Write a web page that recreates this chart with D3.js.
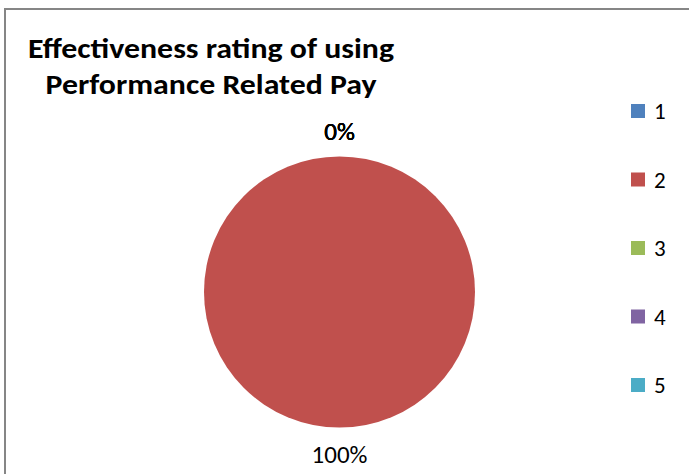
<!DOCTYPE html>
<html>
<head>
<meta charset="utf-8">
<script src="https://cdn.jsdelivr.net/npm/d3@7"></script>
<style>
  html, body { margin: 0; padding: 0; background: #fff; overflow: hidden; }
  svg { display: block; }
</style>
</head>
<body>
<svg id="chart" width="689" height="474"></svg>
<script>
// Effectiveness rating of using Performance Related Pay (share of responses per rating)
const ratings = ["1", "2", "3", "4", "5"];
const shares = [0, 100, 0, 0, 0];
const colors = ["#4F81BD", "#C0504D", "#9BBB59", "#8064A2", "#4BACC6"];
const titleLines = ["Effectiveness rating of using", "Performance Related Pay"];

const W = 689, H = 474;
const svg = d3.select("#chart");
const font = "Carlito, Calibri, Lato, 'Open Sans', sans-serif";

// outer chart frame (runs off the right and bottom edges)
svg.append("rect")
  .attr("x", 5).attr("y", 9)
  .attr("width", 800).attr("height", 600)
  .attr("fill", "#fff")
  .attr("stroke", "#868686")
  .attr("stroke-width", 2);

// title
const titleWidths = [366, 331];
const titleBaselines = [58, 94];
svg.append("g").selectAll("text")
  .data(titleLines)
  .join("text")
  .attr("x", 211)
  .attr("y", (d, i) => titleBaselines[i])
  .attr("text-anchor", "middle")
  .attr("font-family", font)
  .attr("font-weight", "bold")
  .attr("font-size", 28)
  .attr("textLength", (d, i) => titleWidths[i])
  .attr("lengthAdjust", "spacingAndGlyphs")
  .attr("fill", "#000")
  .text(d => d);

// pie
const cx = 339.5, cy = 292, radius = 135.5;
const pie = d3.pie().sort(null).value(d => d.value);
const arcs = pie(ratings.map((r, i) => ({ rating: r, value: shares[i], color: colors[i] })));
const arc = d3.arc().innerRadius(0).outerRadius(radius);
const labelArc = d3.arc().innerRadius(radius + 26).outerRadius(radius + 26);

const g = svg.append("g").attr("transform", `translate(${cx},${cy})`);
g.selectAll("path")
  .data(arcs)
  .join("path")
  .attr("d", arc)
  .attr("fill", d => d.data.color);

const total = d3.sum(shares);
g.selectAll("text.pct")
  .data(arcs)
  .join("text")
  .attr("class", "pct")
  .attr("transform", d => `translate(${labelArc.centroid(d)})`)
  .attr("text-anchor", "middle")
  .attr("dy", "0.36em")
  .attr("font-family", font)
  .attr("font-size", 25)
  .attr("fill", "#000")
  .text(d => d3.format(".0%")(d.data.value / total));

// legend
const legendY = d3.scalePoint().domain(ratings).range([111, 385]);
const leg = svg.append("g").selectAll("g")
  .data(ratings)
  .join("g")
  .attr("transform", r => `translate(631,${legendY(r)})`);
leg.append("rect")
  .attr("x", 0).attr("y", -7)
  .attr("width", 14).attr("height", 14)
  .attr("fill", (r, i) => colors[i]);
leg.append("text")
  .attr("x", 23).attr("y", 0)
  .attr("dy", "0.36em")
  .attr("font-family", font)
  .attr("font-size", 23)
  .attr("fill", "#000")
  .text(r => r);
</script>
</body>
</html>
